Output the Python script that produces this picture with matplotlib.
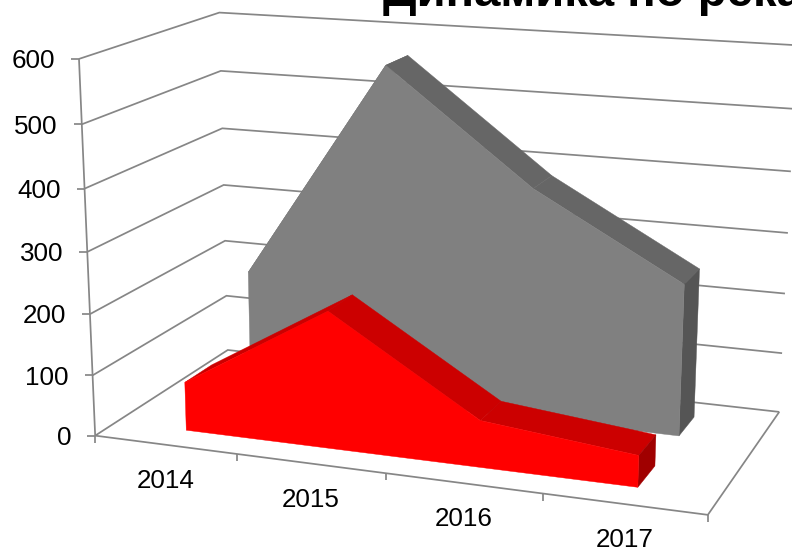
import numpy as np
import matplotlib
matplotlib.use("Agg")
import matplotlib.pyplot as plt

years = ["2014", "2015", "2016", "2017"]
red_values = [80, 222, 75, 50]
gray_values = [198, 560, 380, 248]
y_ticks = [0, 100, 200, 300, 400, 500, 600]
title = "Динамика по рекам"

# camera calibration: (x fraction, depth fraction, height fraction) -> pixel
CAL = [((0,0,0),(95,435.7)),((1,0,0),(707.7,515)),((0,1,0),(228,350)),((1,1,0),(779.3,411.7)),
       ((0,0,1),(79.3,58.7)),((0,1,1),(219,12.7)),((1,1,1),(797,45.3))]
A = []
for (X,Y,Z),(u,v) in CAL:
    A.append([X,Y,Z,1,0,0,0,0,-u*X,-u*Y,-u*Z,-u])
    A.append([0,0,0,0,X,Y,Z,1,-v*X,-v*Y,-v*Z,-v])
M = np.linalg.svd(np.array(A,float))[2][-1].reshape(3,4)

def proj(x, d, v):
    h = M @ np.array([x, d, v/600.0, 1.0])
    return h[0]/h[2], h[1]/h[2]

plt.rcParams['font.family'] = ['Liberation Sans', 'DejaVu Sans']
fig = plt.figure(figsize=(7.92,5.48), dpi=100)
ax = fig.add_axes([0,0,1,1])
ax.set_xlim(0,792); ax.set_ylim(548,0); ax.axis('off')

GRID = '#868686'; LW = 1.25
def line(pts, **k):
    xs, ys = zip(*pts)
    ax.plot(xs, ys, color=GRID, lw=LW, solid_joinstyle='miter', solid_capstyle='butt', zorder=1, **k)

for v in y_ticks:
    line([proj(0,0,v), proj(0,1,v), proj(1,1,v)])
    px, py = proj(0,0,v)
    line([(px-8,py),(px,py)])
    ax.text(px-24, py+2.2, str(v), ha='right', va='center', fontsize=18.7, color='black')
line([proj(0,0,0), proj(0,0,600)])
line([proj(0,0,0), proj(1,0,0), proj(1,1,0)])
n = len(years)
for i in range(n+1):
    px, py = proj(i/n,0,0)
    line([(px,py),(px,py+7)])
for i, y in enumerate(years):
    px, py = proj((i+.5)/n,0,0)
    ax.text(px, py+36, y, ha='center', va='center', fontsize=18.7, color='black')

xs = (np.arange(n)+.5)/n
def area(vals, d0, d1, front, top, side, z):
    vals = list(vals)
    for i in range(n-1):
        poly = [proj(xs[i],d0,vals[i]), proj(xs[i+1],d0,vals[i+1]), proj(xs[i+1],d1,vals[i+1]), proj(xs[i],d1,vals[i])]
        ax.fill(*zip(*poly), color=top, lw=0.3, zorder=z)
    poly = [proj(xs[-1],d0,0), proj(xs[-1],d0,vals[-1]), proj(xs[-1],d1,vals[-1]), proj(xs[-1],d1,0)]
    ax.fill(*zip(*poly), color=side, lw=0.3, zorder=z)
    poly = [proj(xs[0],d0,0)] + [proj(xs[i],d0,vals[i]) for i in range(n)] + [proj(xs[-1],d0,0)]
    ax.fill(*zip(*poly), color=front, lw=0.3, zorder=z+.5)

area(gray_values, .65, .85, '#808080', '#666666', '#555555', 2)
area(red_values, .15, .35, '#FF0000', '#CC0000', '#A00000', 3)

ax.text(383, 6, title, ha='left', va='baseline', fontsize=34, fontweight='bold', color='black', clip_on=False)
fig.savefig('out.png', dpi=100)
